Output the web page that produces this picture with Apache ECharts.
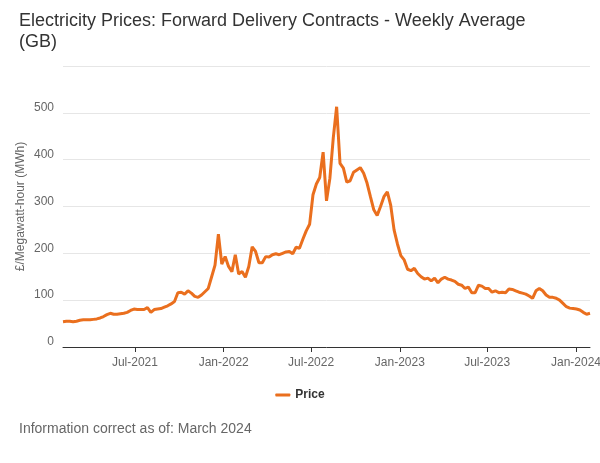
<!DOCTYPE html>
<html>
<head>
<meta charset="utf-8">
<script src="https://cdn.jsdelivr.net/npm/echarts@6/dist/echarts.min.js"></script>
<style>
  html, body { margin: 0; padding: 0; background: #ffffff; }
  #chart { width: 600px; height: 463px; }
</style>
</head>
<body>
<div id="chart"></div>
<script>
// Weekly series starting 2 Feb 2021
const startDate = [2021, 1, 2]; // year, month index (0-based), day
const seriesName = 'Price';
const prices = [
  54, 55, 55, 54, 55, 57, 58, 58, 58, 59,
  60, 62, 65, 69, 72, 70, 70, 71, 72, 74,
  78, 81, 80, 80, 80, 84, 74, 80, 81, 82,
  85, 88, 92, 97, 116, 117, 113, 120, 115, 108,
  106, 111, 118, 125, 150, 175, 241, 177, 193, 172,
  161, 197, 156, 161, 149, 172, 214, 204, 180, 180,
  193, 192, 197, 199, 197, 200, 203, 204, 199, 213,
  211, 230, 248, 262, 325, 348, 362, 416, 312, 360,
  446, 513, 392, 382, 352, 355, 373, 378, 383, 371,
  350, 321, 293, 281, 300, 321, 331, 303, 250, 220,
  195, 186, 166, 163, 168, 157, 150, 145, 147, 141,
  147, 137, 145, 149, 145, 143, 140, 134, 132, 125,
  128, 116, 116, 132, 130, 125, 125, 117, 120, 116,
  117, 116, 124, 123, 120, 117, 115, 113, 109, 104,
  120, 125, 120, 111, 106, 106, 104, 100, 93, 86,
  83, 82, 81, 79, 74, 70, 72
];
const tickDates = [[2021, 6, 1], [2022, 0, 1], [2022, 6, 1], [2023, 0, 1], [2023, 6, 1], [2024, 0, 1]];
const monthNames = ['Jan','Feb','Mar','Apr','May','Jun','Jul','Aug','Sep','Oct','Nov','Dec'];
const yTicks = [0, 100, 200, 300, 400, 500, 600];

const titleText = 'Electricity Prices: Forward Delivery Contracts - Weekly Average\n(GB)';
const yAxisTitle = '£/Megawatt-hour (MWh)';
const footerText = 'Information correct as of: March 2024';

const DAY = 24 * 3600 * 1000;
const WEEK = 7 * DAY;
const t0 = Date.UTC(startDate[0], startDate[1], startDate[2]);
const data = prices.map((v, i) => [t0 + i * WEEK, v]);
const tickValues = tickDates.map(d => Date.UTC(d[0], d[1], d[2]));

const FONT = '"Liberation Sans", Arial, Helvetica, sans-serif';
const ORANGE = '#ea6f1e';

const chart = echarts.init(document.getElementById('chart'), null, { renderer: 'canvas' });
chart.setOption({
  animation: false,
  textStyle: { fontFamily: FONT },
  title: {
    text: titleText,
    left: 14,
    top: 6,
    textStyle: { fontFamily: FONT, fontSize: 18, fontWeight: 'normal', color: '#333333', lineHeight: 21 }
  },
  legend: {
    data: [seriesName],
    top: 384,
    left: 'center',
    icon: 'roundRect',
    itemWidth: 15,
    itemHeight: 3,
    itemGap: 10,
    textStyle: { fontFamily: FONT, fontSize: 12, fontWeight: 'bold', color: '#333333' }
  },
  graphic: [{
    type: 'text',
    left: 19,
    top: 422,
    style: { text: footerText, fontFamily: FONT, fontSize: 14, fill: '#666666' }
  }],
  grid: { left: 63, right: 10, top: 66, bottom: 116, containLabel: false, outerBoundsMode: 'none' },
  xAxis: {
    type: 'value',
    min: t0,
    max: t0 + (prices.length - 1) * WEEK,
    axisLine: { show: true, onZero: false, lineStyle: { color: '#333333', width: 1 } },
    axisTick: { show: true, customValues: tickValues, length: 5, lineStyle: { color: '#333333' } },
    axisLabel: {
      customValues: tickValues,
      color: '#666666',
      fontSize: 12,
      fontFamily: FONT,
      margin: 10,
      formatter: function (val) {
        const d = new Date(val);
        return monthNames[d.getUTCMonth()] + '-' + d.getUTCFullYear();
      }
    },
    splitLine: { show: false }
  },
  yAxis: {
    type: 'value',
    min: yTicks[0],
    max: yTicks[yTicks.length - 1],
    interval: 100,
    name: yAxisTitle,
    nameLocation: 'middle',
    nameGap: 36,
    nameMoveOverlap: false,
    nameTextStyle: { fontFamily: FONT, fontSize: 12, color: '#666666' },
    axisLine: { show: false },
    axisTick: { show: false },
    axisLabel: {
      color: '#666666',
      fontSize: 12,
      fontFamily: FONT,
      margin: 9,
      verticalAlign: 'bottom',
      padding: [0, 0, -1, 0],
      formatter: function (v) { return v === yTicks[yTicks.length - 1] ? '' : String(v); }
    },
    splitLine: { show: true, lineStyle: { color: '#e6e6e6', width: 1 } }
  },
  series: [{
    name: seriesName,
    type: 'line',
    data: data,
    showSymbol: false,
    symbol: 'none',
    lineStyle: { color: ORANGE, width: 3 },
    itemStyle: { color: ORANGE },
    z: 3
  }]
});
</script>
</body>
</html>
